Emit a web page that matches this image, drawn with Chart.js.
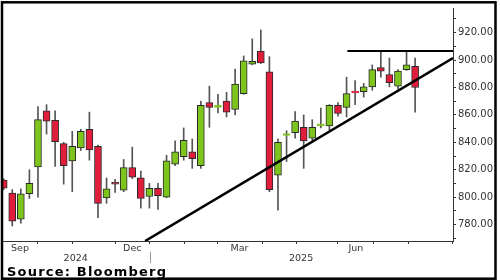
<!DOCTYPE html>
<html>
<head>
<meta charset="utf-8">
<script src="https://cdn.jsdelivr.net/npm/chart.js@4.4.0/dist/chart.umd.min.js"></script>
<style>
  html, body { margin: 0; padding: 0; background: #fff; }
  #wrap { position: relative; width: 500px; height: 280px; }
  #source {
    position: absolute; left: 7px; top: 265px;
    font: bold 13px "DejaVu Sans"; line-height: 13px;
    letter-spacing: 1.2px; color: #000;
  }
</style>
</head>
<body>
<div id="wrap">
  <canvas id="chart" width="500" height="280"></canvas>
  <div id="source">Source: Bloomberg</div>
</div>
<script>
// --- weekly candles, Sep 2024 .. Jul 2025 ---
const opens  = [812.5, 803, 784, 802.5, 822, 863, 856, 839, 826.5, 836,
                849.5, 837, 799.5, 811, 805, 821.5, 814, 800.5, 806.5, 800,
                824, 829.5, 833, 823, 869, 865.5, 870, 864, 875.5, 897,
                906.5, 891.5, 816, 845, 847, 851, 843, 852, 852, 867,
                865.5, 876.5, 877, 880.5, 894.5, 889.5, 881, 893, 895.5];
const highs  = [813.5, 805.5, 806, 820, 866, 867.5, 863, 840, 848, 849.5,
                862, 838, 814, 813, 827.5, 836.5, 819, 810, 810, 830.5,
                841, 850.5, 842.5, 870, 881, 875, 876.5, 893.5, 903, 915.5,
                922, 902.5, 842.5, 848.5, 862.5, 860, 856.5, 865, 867.5, 869,
                887.5, 885, 883, 896.5, 906, 901.5, 893, 907, 901.5];
const lows   = [805.5, 779, 781, 799, 800, 846, 822.5, 809.5, 804, 834,
                827, 785, 795.5, 803.5, 804, 813.5, 792, 792, 791, 799.5,
                823, 827, 821, 821, 851, 861.5, 858.5, 860, 875, 896.5,
                897.5, 804, 790.5, 826, 843, 821, 840, 850.5, 849, 859,
                858.5, 867.5, 873, 878, 887.5, 880.5, 879, 892.5, 862];
const closes = [806.5, 782.5, 802.5, 810, 856.5, 855.5, 840.5, 823, 837, 848,
                834.5, 795.5, 806, 809.5, 821.5, 814.5, 799, 806.5, 801, 826.5,
                833, 841.5, 828, 867, 865.5, 866, 862, 882.5, 899.5, 899,
                898, 805.5, 840, 845.5, 855.5, 841, 851, 852.5, 867, 861,
                875.5, 876, 880.5, 893, 892, 883.5, 892, 896.5, 880];

// trend lines, as [candle index, price]
const supportLine    = [[16.5, 768], [52.42, 901.5]];
const resistanceLine = [[40.1, 906.6], [52.42, 906.6]];

// axes
const yTicks = [770, 780, 790, 800, 810, 820, 830, 840, 850, 860, 870, 880, 890, 900, 910, 920, 930];
const monthTicks = [3.9, 8, 13, 17, 21.1, 25, 30.2, 34.2, 39, 43.1, 47.2, 52.4];
const monthLabels = ['Sep', 'Dec', 'Mar', 'Jun'];
const monthLabelPos = [1.9, 15, 27.5, 41.1];
const yearLabels = ['2024', '2025'];
const yearLabelPos = [8.4, 34.7];
const yearBreak = 17.1;

const GREEN = '#7dc41c';
const RED = '#e11d3c';

const idx = opens.map((_, i) => i);
const isUp = idx.map(i => closes[i] >= opens[i]);
const fills = idx.map(i => isUp[i] ? GREEN : RED);
// doji bodies are drawn as a plain coloured dash, no outline
const outlines = idx.map(i => Math.abs(closes[i] - opens[i]) < 1 ? fills[i] : '#2a2a2a');

const toPts = arr => arr.map(p => ({ x: p[0], y: p[1] }));

const axisText = {
  id: 'axisText',
  afterDraw(chart) {
    const ctx = chart.ctx, x = chart.scales.x, area = chart.chartArea;
    ctx.save();
    ctx.fillStyle = '#333';
    ctx.font = '9.5px "DejaVu Sans"';
    ctx.textAlign = 'center';
    ctx.textBaseline = 'middle';
    monthLabels.forEach((m, i) => ctx.fillText(m, x.getPixelForValue(monthLabelPos[i]), area.bottom + 7.5));
    yearLabels.forEach((y, i) => ctx.fillText(y, x.getPixelForValue(yearLabelPos[i]), area.bottom + 17.5));

    // year divider
    const bx = Math.round(x.getPixelForValue(yearBreak)) + 0.5;
    ctx.strokeStyle = '#999';
    ctx.lineWidth = 1;
    ctx.beginPath();
    ctx.moveTo(bx, area.bottom + 11);
    ctx.lineTo(bx, area.bottom + 22);
    ctx.stroke();

    // outer frame
    ctx.strokeStyle = '#000';
    ctx.lineWidth = 2.5;
    ctx.strokeRect(2, 2.3, 493.5, 276.4);
    ctx.restore();
  }
};

new Chart(document.getElementById('chart'), {
  type: 'bar',
  data: {
    datasets: [
      {
        type: 'line', data: toPts(supportLine),
        borderColor: '#000', borderWidth: 2.6, pointRadius: 0, order: 1
      },
      {
        type: 'line', data: toPts(resistanceLine),
        borderColor: '#000', borderWidth: 2, pointRadius: 0, order: 1
      },
      {
        data: idx.map(i => ({ x: i, y: [opens[i], closes[i]] })),
        backgroundColor: fills, borderColor: outlines, borderWidth: 1,
        borderSkipped: false, barThickness: 7, minBarLength: 2,
        grouped: false, order: 2
      },
      {
        data: idx.map(i => ({ x: i, y: [lows[i], highs[i]] })),
        backgroundColor: '#555', borderWidth: 0,
        barThickness: 1, grouped: false, order: 3
      }
    ]
  },
  options: {
    responsive: false,
    animation: false,
    layout: { padding: { left: 3, top: 3, right: 0, bottom: 0 } },
    plugins: { legend: { display: false }, tooltip: { enabled: false } },
    scales: {
      x: {
        type: 'linear', min: -0.08, max: 52.42, offset: false,
        afterBuildTicks: s => { s.ticks = monthTicks.map(v => ({ value: v })); },
        afterFit: s => { s.height = 39; },
        ticks: { display: false },
        grid: { drawOnChartArea: false, offset: false, tickLength: 3, color: '#333' },
        border: { color: '#333', width: 1 }
      },
      y: {
        position: 'right', min: 768, max: 938,
        afterBuildTicks: s => { s.ticks = yTicks.map(v => ({ value: v })); },
        afterFit: s => { s.width = 47; },
        ticks: {
          autoSkip: false, padding: 2, color: '#333',
          font: { family: 'DejaVu Sans', size: 10 },
          callback: v => v % 20 === 0 ? v.toFixed(2) : ''
        },
        grid: { drawOnChartArea: false, tickLength: 3, color: '#333' },
        border: { color: '#333', width: 1 }
      }
    }
  },
  plugins: [axisText]
});
</script>
</body>
</html>
